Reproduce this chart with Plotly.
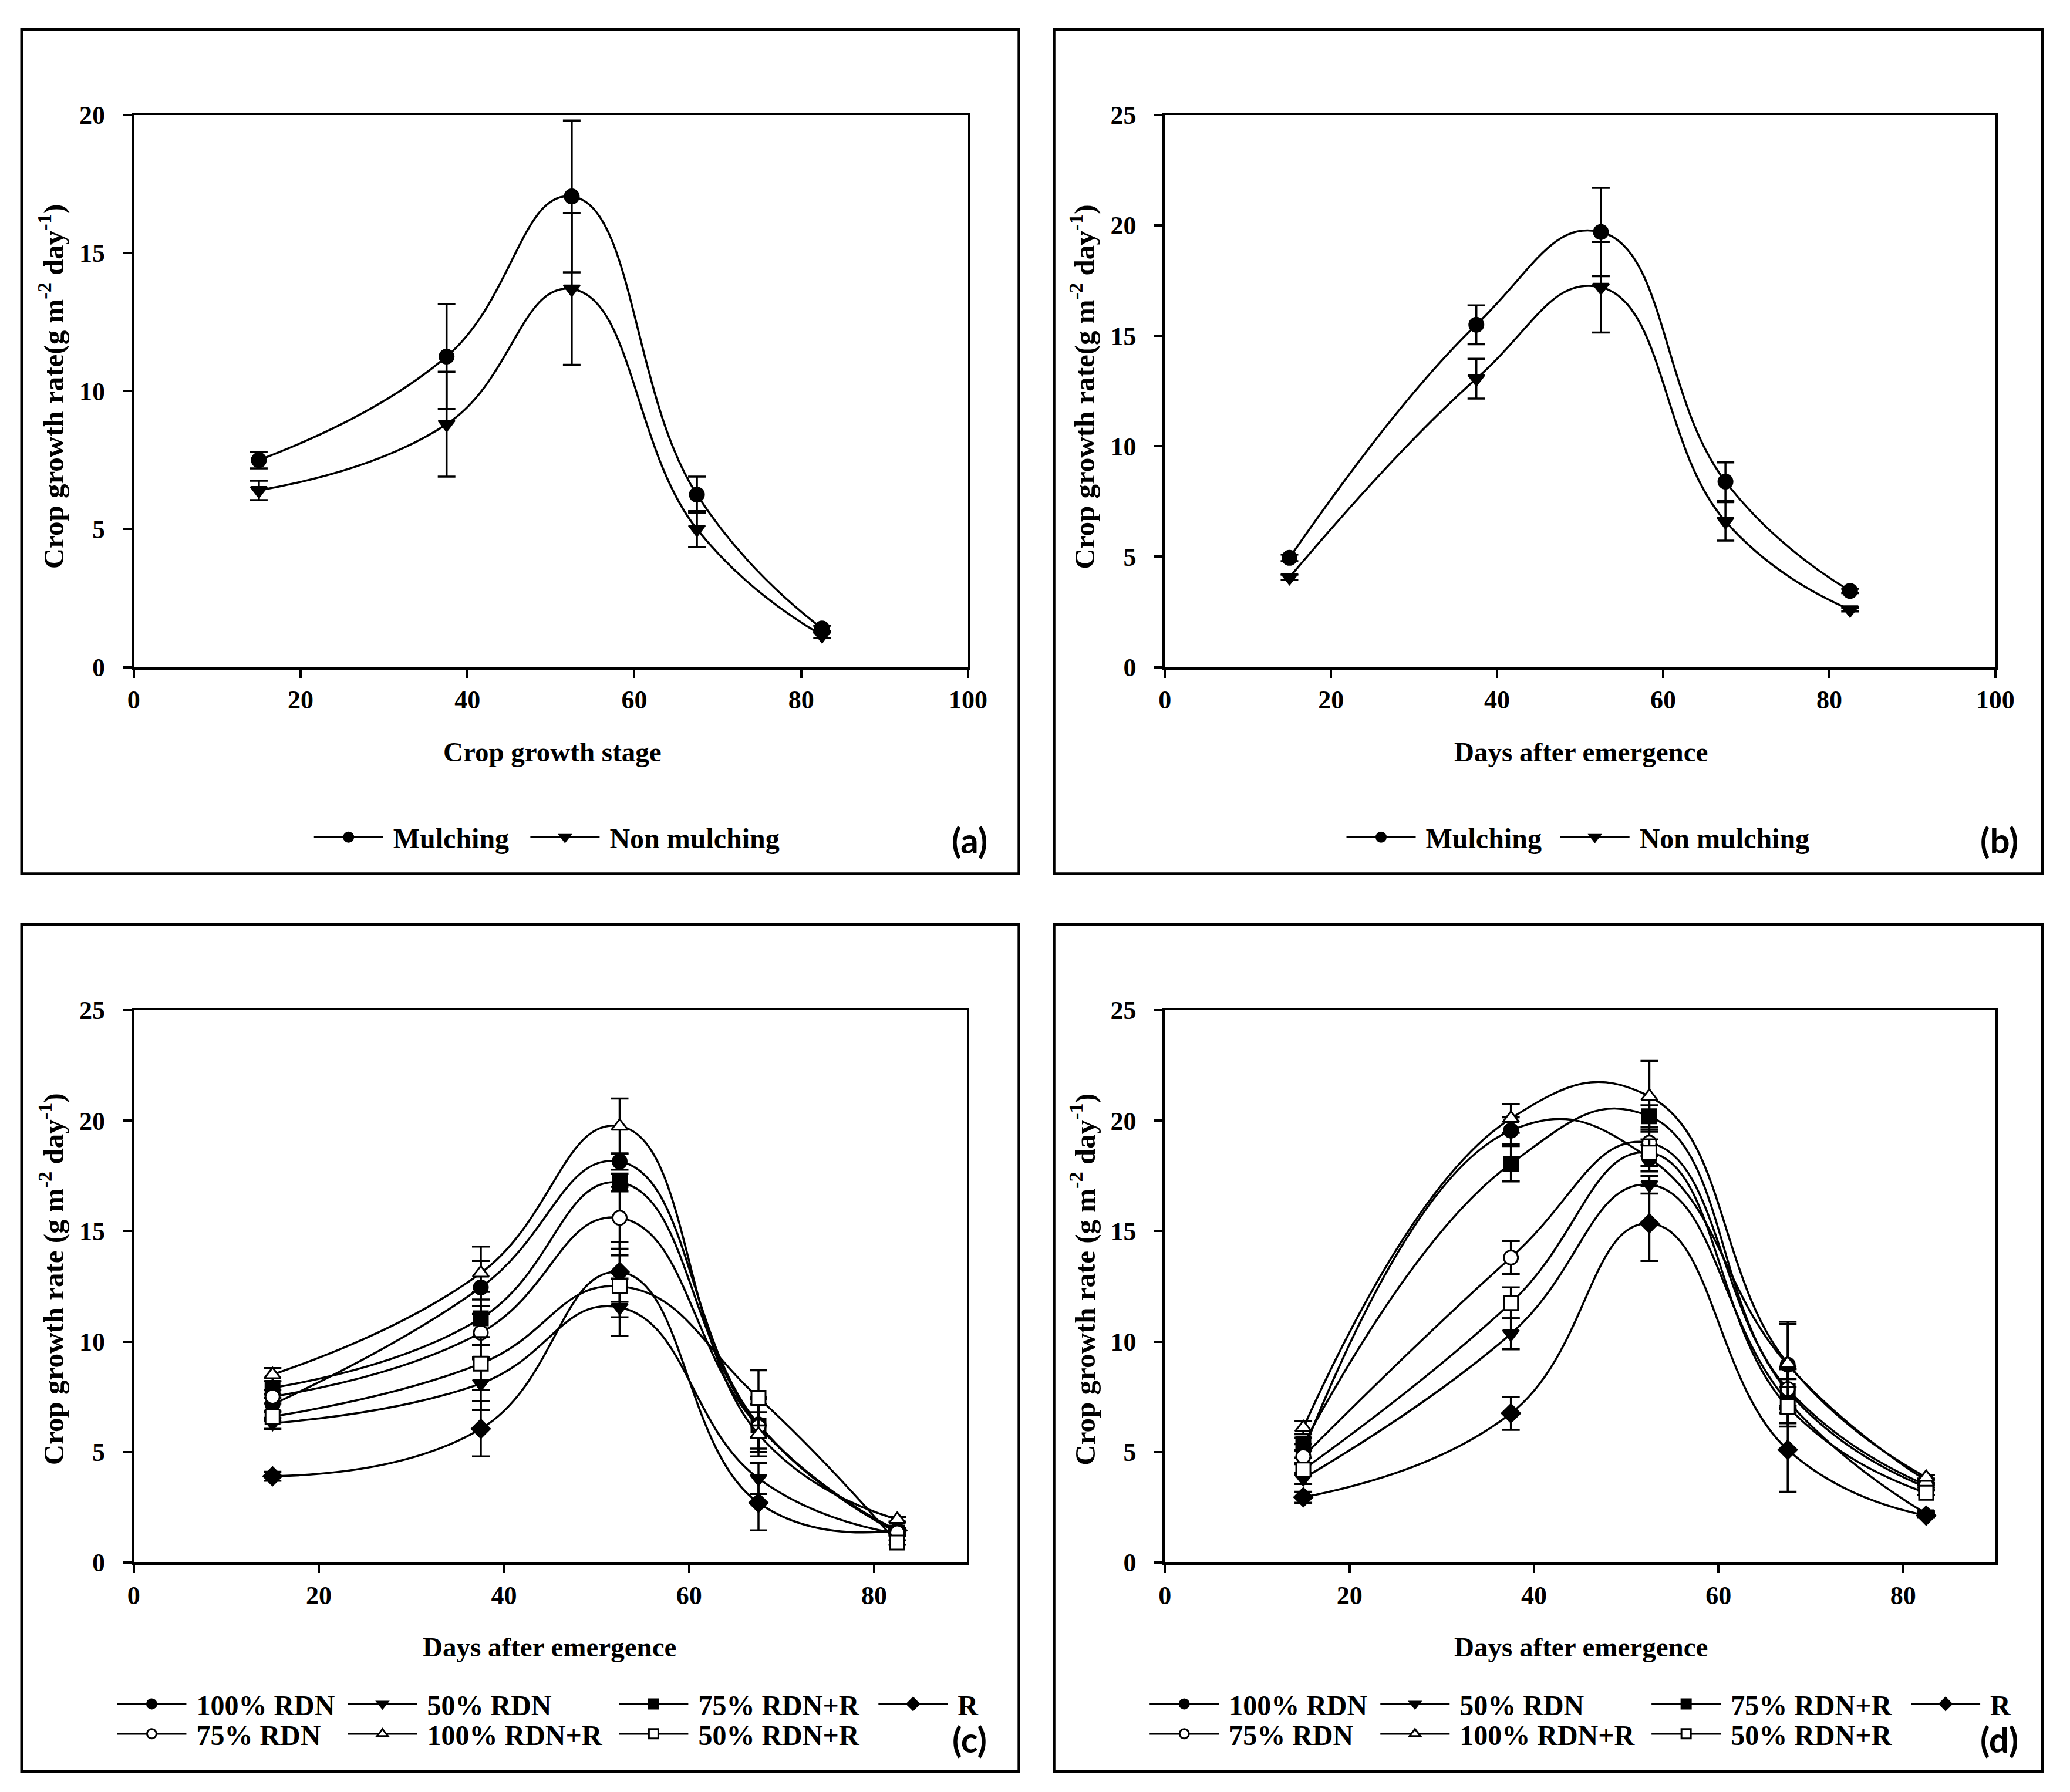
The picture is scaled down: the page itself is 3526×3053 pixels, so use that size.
import plotly.graph_objects as go

# sampling days (x) shared by all four panels
days = [15, 37.5, 52.5, 67.5, 82.5]

# panel (a) - crop growth stage
a_mulching = [7.5, 11.25, 17.05, 6.25, 1.4]
a_mulching_err = [0.3, 1.9, 2.75, 0.65, 0.1]
a_non_mulching = [6.4, 8.8, 13.7, 5.0, 1.15]
a_non_mulching_err = [0.35, 1.9, 2.75, 0.65, 0.1]

# panel (b) - days after emergence
b_mulching = [4.95, 15.5, 19.7, 8.4, 3.45]
b_mulching_err = [0.15, 0.88, 2.0, 0.87, 0.1]
b_non_mulching = [4.07, 13.06, 17.2, 6.6, 2.6]
b_non_mulching_err = [0.12, 0.9, 2.05, 0.87, 0.08]

# panel (c)
treatments = ["100% RDN", "50% RDN", "75% RDN+R", "R", "75% RDN", "100% RDN+R", "50% RDN+R"]
c_values = [
    [7.15, 12.45, 18.15, 6.25, 1.45],
    [6.3, 8.1, 11.55, 3.8, 1.3],
    [7.9, 11.05, 17.2, 6.2, 1.35],
    [3.9, 6.05, 13.15, 2.7, 1.45],
    [7.5, 10.4, 15.6, 6.15, 1.35],
    [8.5, 13.1, 19.75, 5.8, 1.95],
    [6.6, 9.0, 12.5, 7.45, 0.9],
]
c_errors = [
    [0.3, 1.2, 0.37, 1.25, 0.1],
    [0.25, 1.2, 1.3, 0.7, 0.1],
    [0.3, 1.2, 0.4, 1.2, 0.1],
    [0.2, 1.25, 1.35, 1.25, 0.1],
    [0.3, 1.2, 1.4, 1.0, 0.1],
    [0.3, 1.2, 1.25, 1.0, 0.1],
    [0.2, 1.2, 1.4, 1.25, 0.1],
]

# panel (d)
d_values = [
    [5.05, 19.55, 18.3, 8.95, 3.7],
    [3.8, 10.35, 17.1, 7.3, 2.2],
    [5.35, 18.05, 20.2, 7.75, 3.4],
    [2.95, 6.75, 15.35, 5.1, 2.12],
    [4.8, 13.8, 19.0, 7.85, 3.5],
    [6.1, 20.1, 21.1, 9.0, 3.85],
    [4.2, 11.75, 18.55, 7.05, 3.15],
]
d_errors = [
    [0.3, 0.6, 0.6, 1.85, 0.1],
    [0.25, 0.7, 0.4, 1.0, 0.1],
    [0.3, 0.8, 0.5, 1.0, 0.1],
    [0.25, 0.75, 1.7, 1.9, 0.1],
    [0.3, 0.75, 0.6, 0.9, 0.1],
    [0.3, 0.65, 1.6, 1.9, 0.1],
    [0.25, 0.7, 0.6, 0.9, 0.1],
]

# marker style per treatment: (symbol, open)
styles = [("circle", False), ("triangle-down", False), ("square", False), ("diamond", False),
          ("circle", True), ("triangle-up", True), ("square", True)]

W, H = 3526, 3053


# layout positions below are measured on a 1568 px wide copy of the figure
def px(xd):
    return xd / 1568.0


def py(yd):
    return 1 - yd / 1357.0


FONT = "Liberation Serif"

fig = go.Figure()


def add_series(ax, name, y, err, symbol, hollow, legend):
    fig.add_trace(go.Scatter(
        x=days, y=y, name="\u00a0" + name, mode="lines+markers",
        xaxis="x" + ax, yaxis="y" + ax, legend=legend,
        line=dict(color="black", width=3.5, shape="spline", smoothing=1.3),
        marker=dict(symbol=symbol, size=24, color="white" if hollow else "black",
                    line=dict(color="black", width=3)),
        error_y=dict(type="data", array=err, color="black", thickness=3.5, width=15),
    ))


legends = {}


def make_legend(key, xd, yd):
    # xd is where the legend line starts in the reference
    legends[key] = dict(
        x=px(xd - 11), y=py(yd), xanchor="left", yanchor="middle",
        orientation="h", bgcolor="rgba(0,0,0,0)", itemwidth=118,
        font=dict(family=FONT, size=48, color="black", weight="bold"),
    )


# (a) and (b)
add_series("", "Mulching", a_mulching, a_mulching_err, "circle", False, "legend2")
add_series("", "Non mulching", a_non_mulching, a_non_mulching_err, "triangle-down", False, "legend3")
add_series("2", "Mulching", b_mulching, b_mulching_err, "circle", False, "legend4")
add_series("2", "Non mulching", b_non_mulching, b_non_mulching_err, "triangle-down", False, "legend5")
make_legend("legend2", 241, 630)
make_legend("legend3", 407, 630)
make_legend("legend4", 1033, 630)
make_legend("legend5", 1197, 630)

# (c) and (d): legend columns / rows
col_c = [90, 267, 475, 674, 90, 267, 475]
col_d = [x + 792 for x in col_c]
row_c = [1297, 1297, 1297, 1297, 1320, 1320, 1320]

n = 6
for i, name in enumerate(treatments):
    sym, hollow = styles[i]
    key = "legend%d" % n
    add_series("3", name, c_values[i], c_errors[i], sym, hollow, key)
    make_legend(key, col_c[i], row_c[i])
    n += 1
for i, name in enumerate(treatments):
    sym, hollow = styles[i]
    key = "legend%d" % n
    add_series("4", name, d_values[i], d_errors[i], sym, hollow, key)
    make_legend(key, col_d[i], row_c[i])
    n += 1

tickfont = dict(family=FONT, size=44, color="black", weight="bold")


def axis(domain, rng, dtick, anchor, standoff):
    return dict(domain=domain, range=rng, dtick=dtick, anchor=anchor,
                showline=True, linecolor="black", linewidth=4, mirror=True,
                ticks="outside", ticklen=14, tickwidth=4, tickcolor="black",
                ticklabelstandoff=standoff,
                showgrid=False, zeroline=False, tickfont=tickfont)


top = [py(499), py(74)]
bot = [py(1188), py(763)]

fig.update_layout(
    width=W, height=H, margin=dict(l=0, r=0, t=0, b=0),
    paper_bgcolor="white", plot_bgcolor="white",
    xaxis=axis([px(94), px(734)], [0, 100], 20, "y", 0),
    yaxis=axis(top, [0, 20], 5, "x", 22),
    xaxis2=axis([px(885), px(1522)], [0, 100], 20, "y2", 0),
    yaxis2=axis(top, [0, 25], 5, "x2", 22),
    xaxis3=axis([px(94), px(733)], [0, 90], 20, "y3", 0),
    yaxis3=axis(bot, [0, 25], 5, "x3", 22),
    xaxis4=axis([px(885), px(1522)], [0, 90], 20, "y4", 0),
    yaxis4=axis(bot, [0, 25], 5, "x4", 22),
    **legends,
)

# panel frames
for x0, x1, y0, y1 in [(8, 773, 8, 658), (800, 1558, 8, 658), (8, 773, 697, 1349), (800, 1558, 697, 1349)]:
    fig.add_shape(type="rect", xref="paper", yref="paper",
                  x0=px(x0), x1=px(x1), y0=py(y1), y1=py(y0),
                  line=dict(color="black", width=4.5))

ylab_ab = "Crop growth rate(g m<sup>-2</sup> day<sup>-1</sup>)"
ylab_cd = "Crop growth rate (g m<sup>-2</sup> day<sup>-1</sup>)"
texts = [
    ("Crop growth stage", 415, 564, 0, 47),
    ("Days after emergence", 1204, 564, 0, 47),
    ("Days after emergence", 413, 1253, 0, 47),
    ("Days after emergence", 1204, 1253, 0, 47),
    (ylab_ab, 31, 283, -90, 49),
    (ylab_ab, 822, 283, -90, 49),
    (ylab_cd, 31, 970, -90, 49),
    (ylab_cd, 822, 970, -90, 49),
]
for t, xd, yd, ang, fs in texts:
    fig.add_annotation(text=t, x=px(xd), y=py(yd), xref="paper", yref="paper",
                       showarrow=False, textangle=ang,
                       font=dict(family=FONT, size=fs, color="black", weight="bold"),
                       xanchor="center", yanchor="middle")

for lab, xd, yd in [("(a)", 735, 632), ("(b)", 1525, 632), ("(c)", 735, 1324), ("(d)", 1525, 1324)]:
    fig.add_annotation(text=lab, x=px(xd), y=py(yd), xref="paper", yref="paper",
                       showarrow=False, xanchor="center", yanchor="middle",
                       font=dict(family="Lato", size=60, color="black", weight="bold"))

fig.write_html("out.html")
